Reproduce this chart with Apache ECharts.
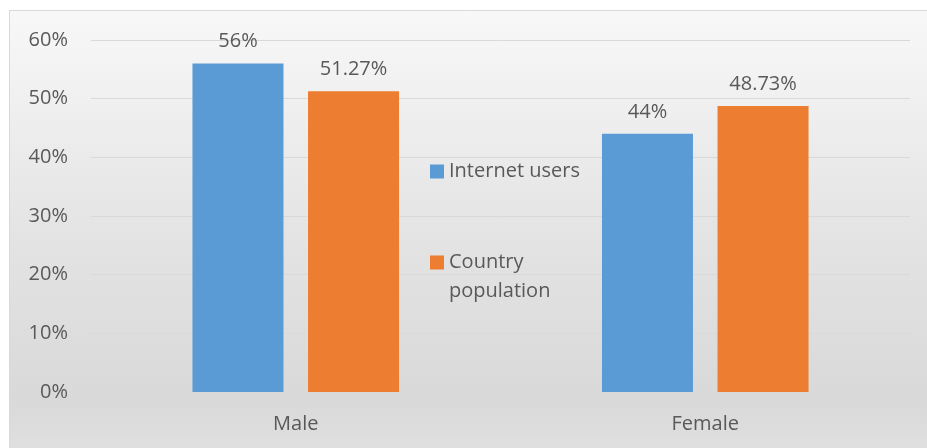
<!DOCTYPE html>
<html>
<head>
<meta charset="utf-8">
<script src="https://cdn.jsdelivr.net/npm/echarts@6/dist/echarts.min.js"></script>
<style>
  html, body { margin: 0; padding: 0; background: #ffffff; }
  #chart { width: 927px; height: 448px; }
</style>
</head>
<body>
<div id="chart"></div>
<script>
// Share of internet users vs. country population, by gender
const categories = ['Male', 'Female'];
const internetUsers = [56, 44];
const countryPopulation = [51.27, 48.73];
const yTicks = [0, 10, 20, 30, 40, 50, 60];

const FONT = '"Open Sans", "Liberation Sans", sans-serif';
const TEXT = '#595959';
const FS = 20;

const chart = echarts.init(document.getElementById('chart'));

chart.setOption({
  animation: false,
  graphic: [{
    type: 'rect',
    silent: true,
    z: -10,
    shape: { x: 9.5, y: 10.5, width: 918, height: 440 },
    style: {
      stroke: '#d9d9d9',
      lineWidth: 1,
      fill: {
        type: 'linear', x: 0, y: 0, x2: 0, y2: 1,
        colorStops: [
          { offset: 0, color: '#f8f8f8' },
          { offset: 0.5, color: '#e4e4e4' },
          { offset: 0.88, color: '#d9d9d9' },
          { offset: 1, color: '#dfdfdf' }
        ]
      }
    }
  }],
  grid: { left: 91, right: 17, top: 40, bottom: 56 },
  legend: {
    orient: 'vertical',
    left: 430,
    top: 157,
    padding: 0,
    itemWidth: 14,
    itemHeight: 14,
    itemGap: 33,
    icon: 'rect',
    textStyle: { fontFamily: FONT, fontSize: FS, color: TEXT, lineHeight: 29 },
    data: ['Internet users', 'Country population'],
    // leading blank line keeps the swatch level with "Country"
    formatter: name => name === 'Country population' ? '\nCountry\npopulation' : name
  },
  xAxis: {
    type: 'category',
    data: categories,
    axisLine: { show: false },
    axisTick: { show: false },
    axisLabel: { fontFamily: FONT, fontSize: FS, color: TEXT, margin: 22 }
  },
  yAxis: {
    type: 'value',
    min: yTicks[0],
    max: yTicks[yTicks.length - 1],
    interval: 10,
    axisLine: { show: false },
    axisTick: { show: false },
    splitLine: { lineStyle: { color: '#d9d9d9', width: 1 } },
    axisLabel: {
      fontFamily: FONT, fontSize: FS, color: TEXT, margin: 23,
      formatter: v => v + '%'
    }
  },
  series: [
    {
      name: 'Internet users',
      type: 'bar',
      data: internetUsers,
      barWidth: 91,
      barGap: '27%',
      itemStyle: { color: '#5b9bd5' },
      label: {
        show: true, position: 'top', distance: 12,
        fontFamily: FONT, fontSize: FS, color: TEXT,
        formatter: p => p.value + '%'
      }
    },
    {
      name: 'Country population',
      type: 'bar',
      data: countryPopulation,
      barWidth: 91,
      itemStyle: { color: '#ed7d31' },
      label: {
        show: true, position: 'top', distance: 12,
        fontFamily: FONT, fontSize: FS, color: TEXT,
        formatter: p => p.value + '%'
      }
    }
  ]
});
</script>
</body>
</html>
